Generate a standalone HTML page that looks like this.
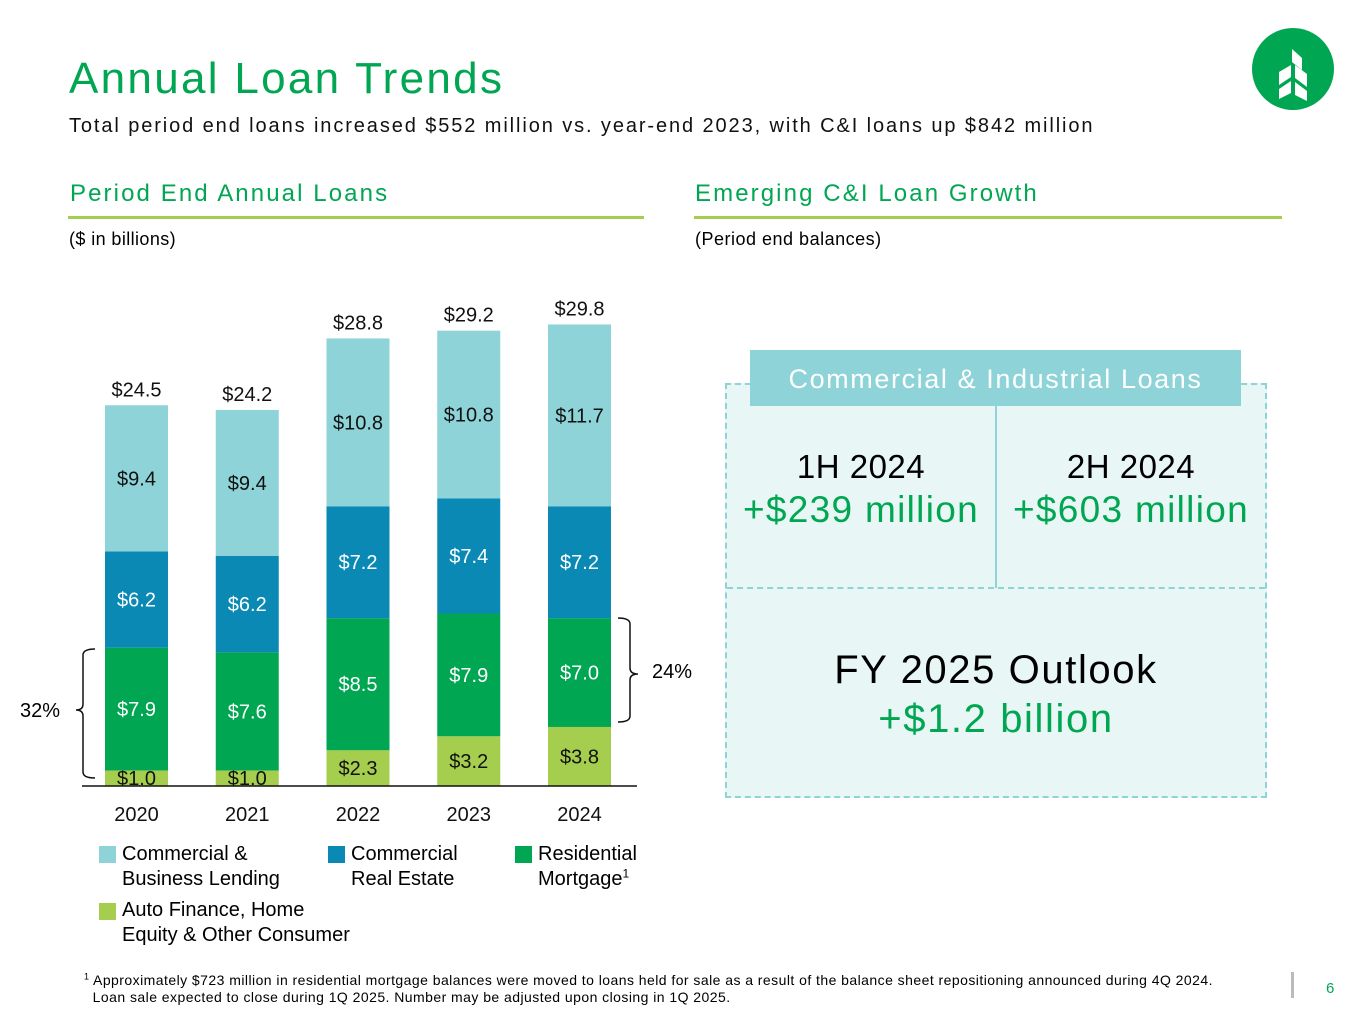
<!DOCTYPE html>
<html><head><meta charset="utf-8"><style>
body{margin:0;width:1365px;height:1024px;background:#fff;font-family:"Liberation Sans",sans-serif;position:relative;overflow:hidden}
.a{position:absolute;white-space:nowrap}
sup{line-height:0}
</style></head><body>
<div class="a" style="left:69px;top:54px;font-size:44px;color:#00a651;letter-spacing:2.3px">Annual Loan Trends</div>
<div class="a" style="left:69px;top:115px;font-size:20px;color:#111;letter-spacing:1.9px">Total period end loans increased $552 million vs. year-end 2023, with C&amp;I loans up $842 million</div>
<svg class="a" style="left:1251px;top:27px" width="84" height="84"><circle cx="42" cy="42" r="41" fill="#00a651"/><path d="M41 22 L51 31 L51 43 L41 35Z M28 45 L40 38 L40 50 L28 58Z M44 38 L56 47 L56 60 L44 51Z M28 62 L40 54 L40 66 L28 72Z M44 55 L56 64 L56 74 L44 68Z" fill="#fff"/></svg>
<div class="a" style="left:70px;top:180px;font-size:24px;color:#00a651;letter-spacing:2.1px">Period End Annual Loans</div>
<div class="a" style="left:68px;top:216px;width:576px;height:3px;background:#a6ce4e"></div>
<div class="a" style="left:69px;top:229px;font-size:18px;letter-spacing:0.4px">($ in billions)</div>
<div class="a" style="left:695px;top:180px;font-size:24px;color:#00a651;letter-spacing:2.1px">Emerging C&amp;I Loan Growth</div>
<div class="a" style="left:694px;top:216px;width:588px;height:3px;background:#a6ce4e"></div>
<div class="a" style="left:695px;top:229px;font-size:18px;letter-spacing:0.5px">(Period end balances)</div>

<svg id="chart" class="a" style="left:0;top:280px" width="700" height="560"></svg>

<div>
<div class="a" style="left:99px;top:846px;width:17px;height:17px;background:#8dd3d8"></div>
<div class="a" style="left:122px;top:842px;font-size:20px;line-height:25px">Commercial &amp;<br>Business Lending</div>
<div class="a" style="left:328px;top:846px;width:17px;height:17px;background:#0a89b4"></div>
<div class="a" style="left:351px;top:842px;font-size:20px;line-height:25px">Commercial<br>Real Estate</div>
<div class="a" style="left:515px;top:846px;width:17px;height:17px;background:#00a651"></div>
<div class="a" style="left:538px;top:842px;font-size:20px;line-height:25px">Residential<br>Mortgage<sup style="font-size:12px">1</sup></div>
<div class="a" style="left:99px;top:903px;width:17px;height:17px;background:#a6ce4e"></div>
<div class="a" style="left:122px;top:898px;font-size:20px;line-height:25px">Auto Finance, Home<br>Equity &amp; Other Consumer</div>
</div>

<div class="a" style="left:725px;top:383px;width:538px;height:411px;border:2px dashed #8dd3d8;background:#e8f6f6"></div>
<div class="a" style="left:995px;top:400px;width:2px;height:188px;background:#8dd3d8"></div>
<div class="a" style="left:727px;top:587px;width:538px;border-top:2px dashed #8dd3d8"></div>
<div class="a" style="left:750px;top:350px;width:491px;height:56px;background:#8dd3d8;color:#fff;font-size:27px;line-height:58px;text-align:center;letter-spacing:1.6px">Commercial &amp; Industrial Loans</div>
<div class="a" style="left:727px;top:448px;width:268px;text-align:center;font-size:33px;letter-spacing:0.5px">1H 2024</div>
<div class="a" style="left:727px;top:489px;width:268px;text-align:center;font-size:37px;color:#00a651;letter-spacing:1.3px">+$239 million</div>
<div class="a" style="left:997px;top:448px;width:268px;text-align:center;font-size:33px;letter-spacing:0.5px">2H 2024</div>
<div class="a" style="left:997px;top:489px;width:268px;text-align:center;font-size:37px;color:#00a651;letter-spacing:1.3px">+$603 million</div>
<div class="a" style="left:727px;top:648px;width:538px;text-align:center;font-size:40px;letter-spacing:1.6px">FY 2025 Outlook</div>
<div class="a" style="left:727px;top:697px;width:538px;text-align:center;font-size:40px;color:#00a651;letter-spacing:1.6px">+$1.2 billion</div>

<div class="a" style="left:84px;top:972px;font-size:14px;line-height:17px;letter-spacing:0.45px"><sup style="font-size:9px">1</sup> Approximately $723 million in residential mortgage balances were moved to loans held for sale as a result of the balance sheet repositioning announced during 4Q 2024.<br>&nbsp;&nbsp;Loan sale expected to close during 1Q 2025. Number may be adjusted upon closing in 1Q 2025.</div>
<div class="a" style="left:1291px;top:972px;width:3px;height:26px;background:#bbb"></div>
<div class="a" style="left:1326px;top:980px;font-size:15px;color:#00a651">6</div>

<script>
const years=["2020","2021","2022","2023","2024"];
const auto=[1.0,1.0,2.3,3.2,3.8];
const resi=[7.9,7.6,8.5,7.9,7.0];
const cre=[6.2,6.2,7.2,7.4,7.2];
const cbl=[9.4,9.4,10.8,10.8,11.7];
const totals=["$24.5","$24.2","$28.8","$29.2","$29.8"];
const series=[{v:auto,c:"#a6ce4e",t:"#111",n:"auto"},{v:resi,c:"#00a651",t:"#fff",n:"resi"},{v:cre,c:"#0a89b4",t:"#fff",n:"cre"},{v:cbl,c:"#8dd3d8",t:"#111",n:"cbl"}];
const svg=document.getElementById('chart');const NS="http://www.w3.org/2000/svg";
const base=506, k=15.54, x0=105, step=110.75, bw=63;
const y=v=>base-v*k; const x=i=>x0+i*step;
function mk(t,a){const e=document.createElementNS(NS,t);for(const p in a)e.setAttribute(p,a[p]);svg.appendChild(e);return e;}
years.forEach((yr,i)=>{let cum=0;
 series.forEach(s=>{const v=s.v[i];
  const r=mk('rect',{x:x(i),y:y(cum+v),width:bw,height:v*k,fill:s.c});
  
  
  const t=mk('text',{x:x(i)+bw/2,y:y(cum+v/2)+7,'text-anchor':'middle','font-size':20,fill:s.t,'font-family':'Liberation Sans'});
  t.textContent='$'+v.toFixed(1);
  
  
  cum+=v;});
 const tt=mk('text',{x:x(i)+bw/2,y:y(cum)-9,'text-anchor':'middle','font-size':20,fill:'#111','font-family':'Liberation Sans'});
 tt.textContent=totals[i];
 
 
 const xl=mk('text',{x:x(i)+bw/2,y:base+35,'text-anchor':'middle','font-size':20,fill:'#111','font-family':'Liberation Sans'});
 xl.textContent=yr;
 
 
});
const ax=mk('line',{x1:82,x2:637,y1:base,y2:base,stroke:'#111','stroke-width':1.5});


const b1=mk('path',{d:'M95 369 Q83 369 83 375 L83 424 Q83 430 76 430 Q83 430 83 436 L83 492 Q83 498 95 498',fill:'none',stroke:'#111','stroke-width':1.5});


const p1=mk('text',{x:20,y:437,'font-size':20,'font-family':'Liberation Sans'});p1.textContent='32%';


const b2=mk('path',{d:'M618 338 Q630 338 630 344 L630 388 Q630 394 638 394 Q630 394 630 400 L630 436 Q630 442 618 442',fill:'none',stroke:'#111','stroke-width':1.5});


const p2=mk('text',{x:652,y:398,'font-size':20,'font-family':'Liberation Sans'});p2.textContent='24%';


</script>
</body></html>
